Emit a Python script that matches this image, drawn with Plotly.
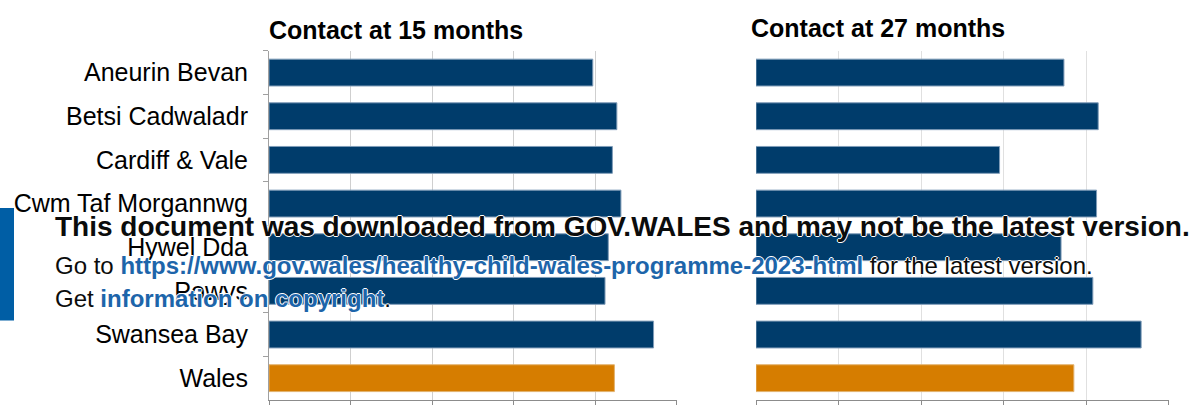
import plotly.graph_objects as go

# ---- data ----
regions = ["Aneurin Bevan", "Betsi Cadwaladr", "Cardiff & Vale", "Cwm Taf Morgannwg",
           "Hywel Dda", "Powys", "Swansea Bay", "Wales"]
contact_15 = [79.4, 85.3, 84.2, 86.3, 83.2, 82.4, 94.3, 84.7]
contact_27 = [74.6, 82.9, 59.0, 82.5, 73.9, 81.6, 93.3, 77.0]
panel_titles = ["Contact at 15 months", "Contact at 27 months"]

NAVY = "#003C6B"
ORANGE = "#D67D00"
colours = [ORANGE if r == "Wales" else NAVY for r in regions]
edges = ["#E2B26E" if r == "Wales" else "#7F9CB8" for r in regions]

W, H = 1192, 405
def px(x): return x / W
def py(y): return 1 - y / H

fig = go.Figure()
fig.add_trace(go.Bar(x=contact_15, y=regions, orientation="h", xaxis="x", yaxis="y",
                     marker=dict(color=colours, line=dict(color=edges, width=1)),
                     showlegend=False, hoverinfo="x+y"))
fig.add_trace(go.Bar(x=contact_27, y=regions, orientation="h", xaxis="x2", yaxis="y2",
                     marker=dict(color=colours, line=dict(color=edges, width=1)),
                     showlegend=False, hoverinfo="x+y"))

ydom = [py(402), py(51)]
common_x = dict(range=[0, 100.05], dtick=20, showgrid=True, gridwidth=1,
                zeroline=False, showticklabels=False, ticks="outside", ticklen=5,
                tickcolor="#8C8C8C", showline=True, linecolor="#8C8C8C", linewidth=1,
                fixedrange=True)
fig.update_layout(
    width=W, height=H,
    margin=dict(l=0, r=0, t=0, b=0),
    paper_bgcolor="white", plot_bgcolor="white",
    bargap=0.385,
    font=dict(family="Liberation Sans, Arial, sans-serif", color="#000000"),
    xaxis=dict(domain=[px(269), px(677)], anchor="y", gridcolor="#CFCFCF", **common_x),
    xaxis2=dict(domain=[px(756), px(1169)], anchor="y2", gridcolor="#E0E0E0", **common_x),
    yaxis=dict(domain=ydom, anchor="x", autorange="reversed", categoryorder="array",
               categoryarray=regions, showline=True, linecolor="#A0A0A0", linewidth=1,
               ticks="outside", ticklen=5, tickcolor="#A0A0A0", tickson="boundaries",
               showgrid=False, tickfont=dict(size=25, color="#000000"),
               ticklabelstandoff=15, fixedrange=True),
    yaxis2=dict(domain=ydom, anchor="x2", autorange="reversed", categoryorder="array",
                categoryarray=regions, showline=False, showticklabels=False,
                ticks="", showgrid=False, fixedrange=True),
)

# panel titles
fig.add_annotation(text=f"<b>{panel_titles[0]}</b>", x=px(267), y=py(30), xref="paper", yref="paper",
                   xanchor="left", yanchor="middle", showarrow=False,
                   font=dict(size=25, color="#000000"))
fig.add_annotation(text=f"<b>{panel_titles[1]}</b>", x=px(749), y=py(28), xref="paper", yref="paper",
                   xanchor="left", yanchor="middle", showarrow=False,
                   font=dict(size=25, color="#000000"))

# download banner overlay
fig.add_shape(type="rect", xref="paper", yref="paper", x0=0, x1=px(14), y0=py(322), y1=py(209),
              fillcolor="#005EA5", line=dict(width=0), layer="above")
shadow = "1px 0 0 #fff, -1px 0 0 #fff, 0 1px 0 #fff, 0 -1px 0 #fff"
fig.add_annotation(text="<b>This document was downloaded from GOV.WALES and may not be the latest version.</b>",
                   x=px(53), y=py(228), xref="paper", yref="paper", xanchor="left", yanchor="middle",
                   showarrow=False, font=dict(size=28, color="#0B0C0C", shadow=shadow))
fig.add_annotation(text="Go to <b><span style='color:#1D65AA'>https://www.gov.wales/healthy-child-wales-programme-2023-html</span></b> for the latest version.",
                   x=px(53), y=py(267), xref="paper", yref="paper", xanchor="left", yanchor="middle",
                   showarrow=False, font=dict(size=24, color="#0B0C0C", shadow=shadow))
fig.add_annotation(text="Get <b><span style='color:#1D65AA'>information on copyright</span></b>.",
                   x=px(53), y=py(300), xref="paper", yref="paper", xanchor="left", yanchor="middle",
                   showarrow=False, font=dict(size=24, color="#0B0C0C", shadow=shadow))

fig.write_html("out.html", config={"displayModeBar": False},
               post_script="document.body.style.margin='0';document.body.style.padding='0';")
